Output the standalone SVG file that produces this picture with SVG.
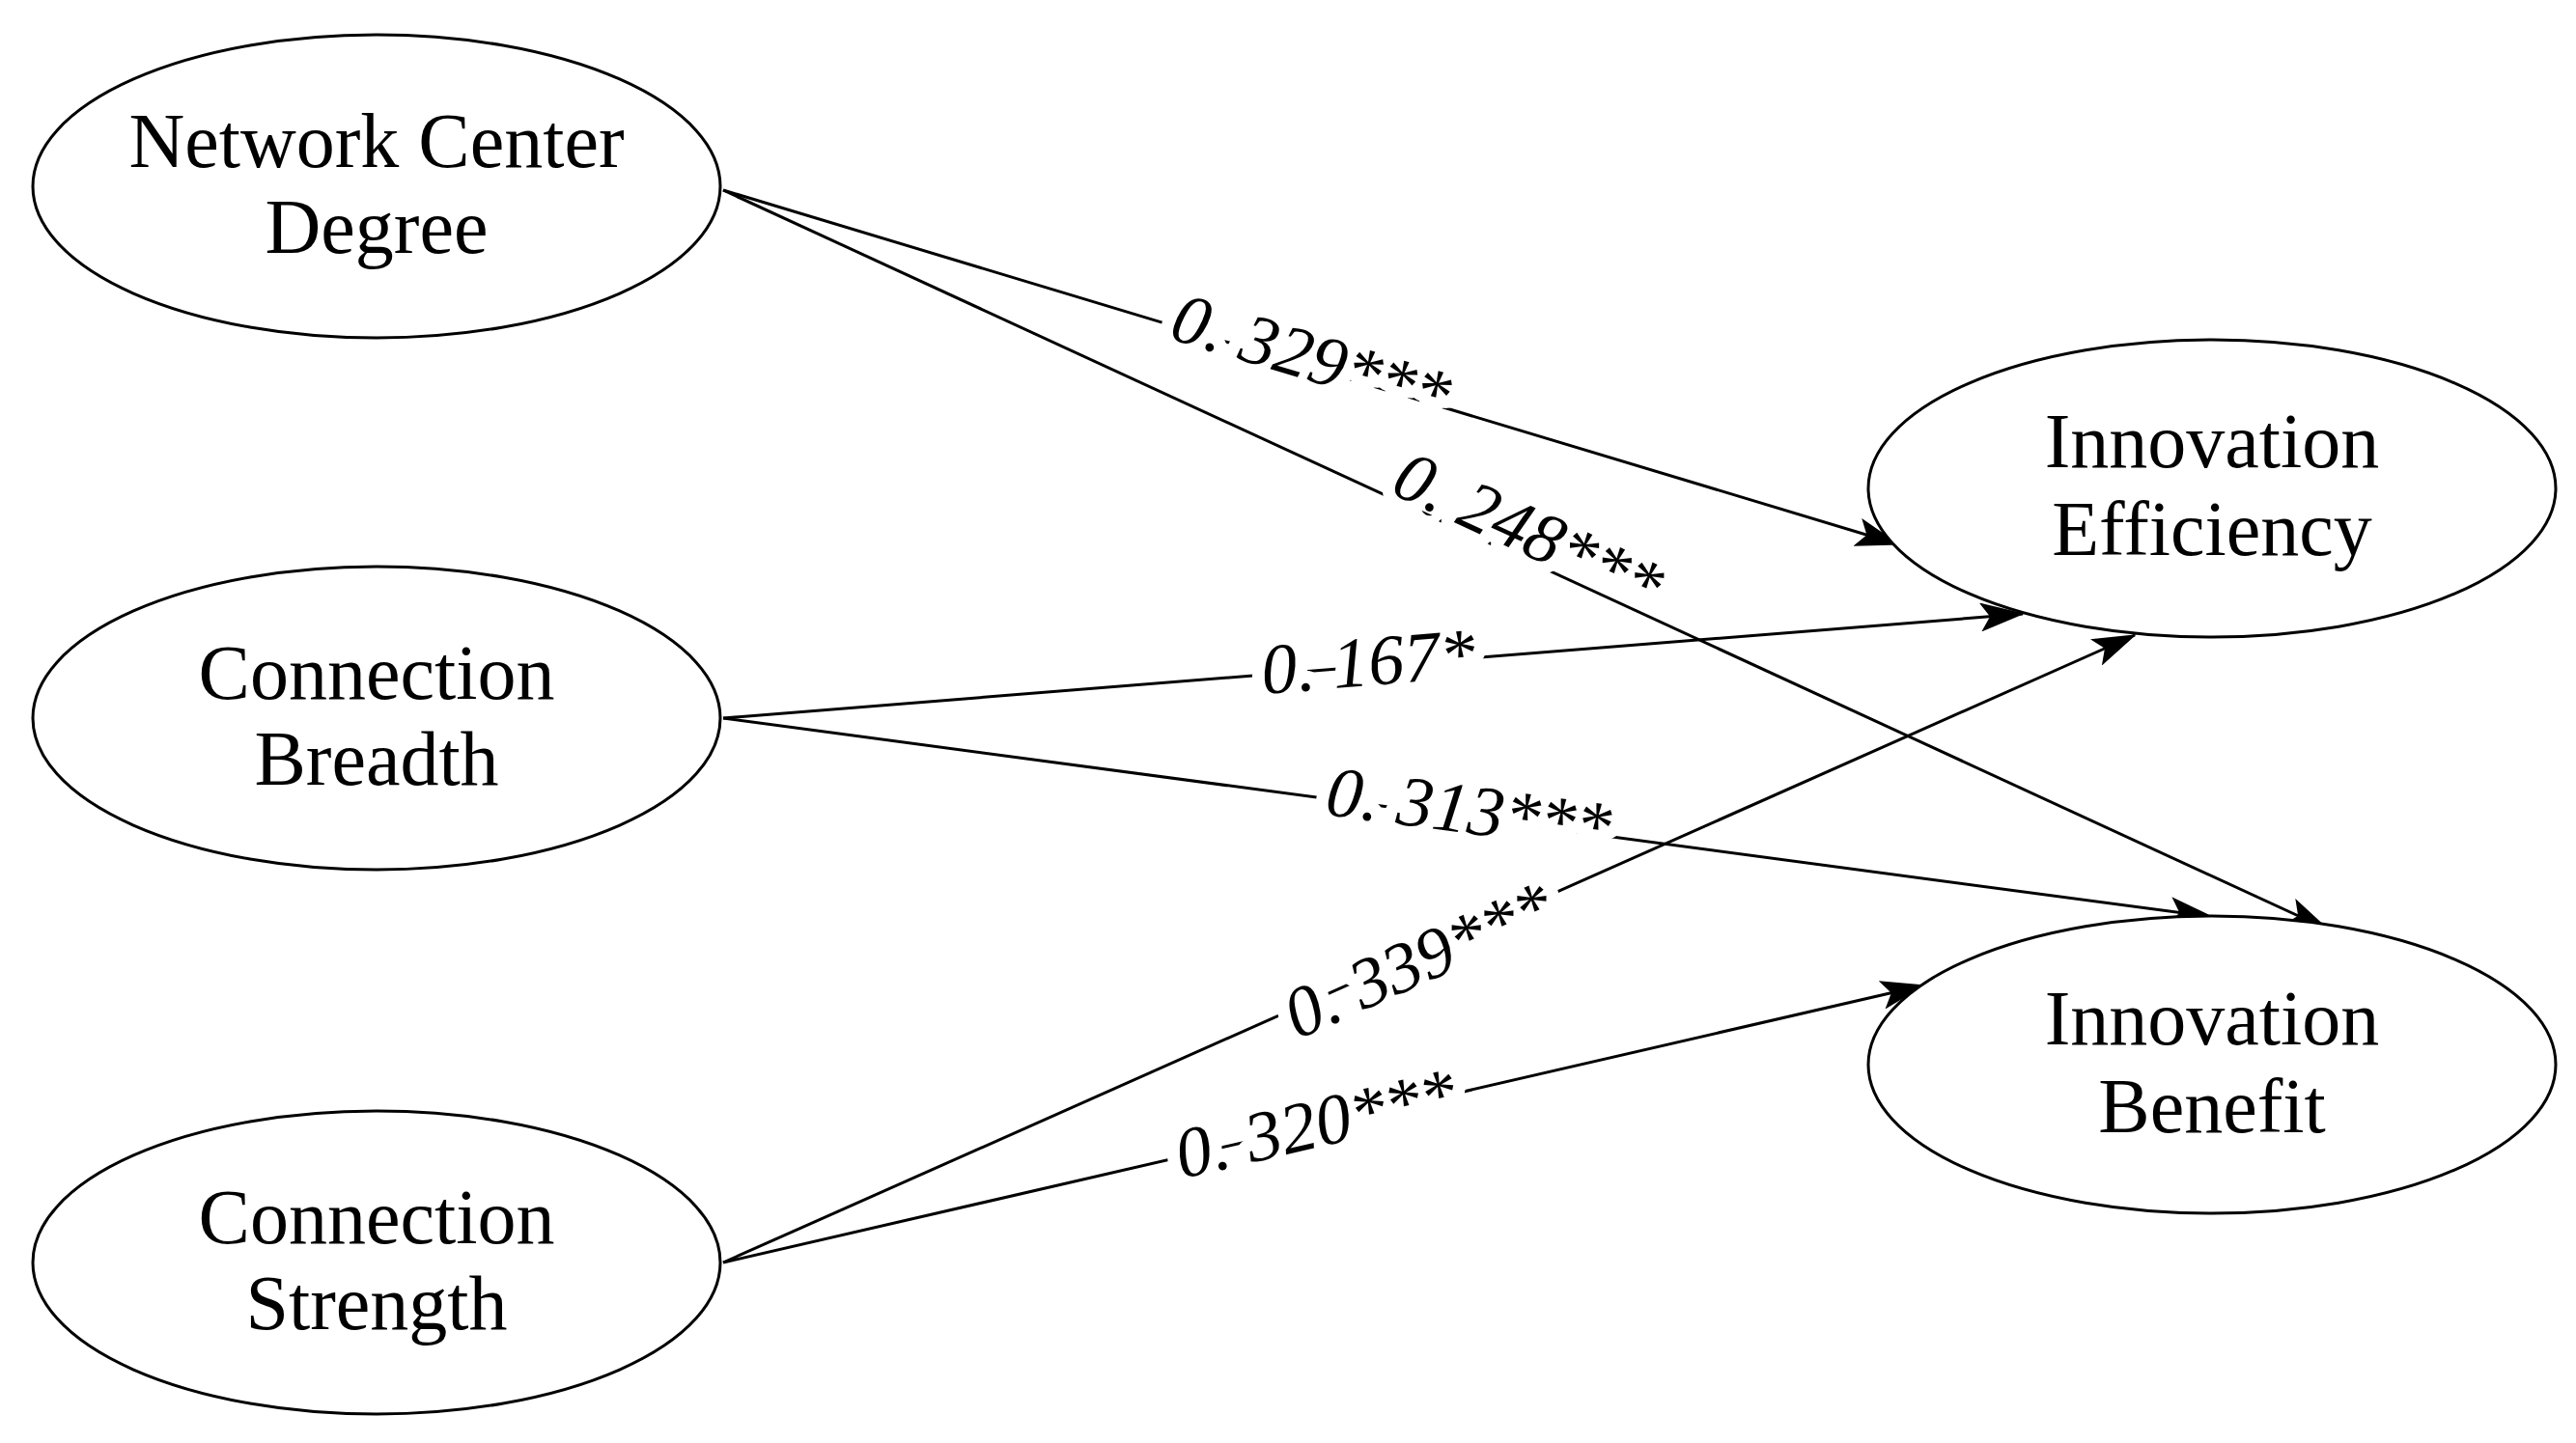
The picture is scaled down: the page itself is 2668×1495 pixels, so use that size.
<svg xmlns="http://www.w3.org/2000/svg" width="2668" height="1495" viewBox="0 0 2668 1495">
<style>
.n{fill:#fff;stroke:#000;stroke-width:3}
.t{font-family:"Liberation Serif",serif;font-size:80px;text-anchor:middle;fill:#000}
.l{font-family:"Liberation Serif",serif;font-size:74px;font-style:italic;text-anchor:middle;fill:#000;stroke:#fff;stroke-width:26;paint-order:stroke;stroke-linejoin:round}
.c line{stroke:#000;stroke-width:3;marker-end:url(#a)}
</style>
<defs><marker id="a" markerUnits="userSpaceOnUse" markerWidth="46" markerHeight="30" refX="44" refY="15" orient="auto"><path d="M0,0L46,15L0,30L10,15Z" fill="#000"/></marker></defs>
<rect width="2668" height="1495" fill="#fff"/>
<g class="c">
<line x1="749" y1="197" x2="1966" y2="564"/>
<line x1="749" y1="197" x2="2411" y2="963"/>
<line x1="749" y1="744" x2="2095" y2="636"/>
<line x1="749" y1="744" x2="2291" y2="950"/>
<line x1="749" y1="1308" x2="2211" y2="658"/>
<line x1="749" y1="1308" x2="1992" y2="1021"/>
<text class="l" transform="translate(1351,393) rotate(16.8)">0. 329***</text>
<text class="l" transform="translate(1573,572) rotate(24.7)">0. 248***</text>
<text class="l" transform="translate(1419,710) rotate(-4.6)">0. 167*</text>
<text class="l" transform="translate(1518,863) rotate(7.5)">0. 313***</text>
<text class="l" transform="translate(1479,1017) rotate(-24)">0. 339***</text>
<text class="l" transform="translate(1368,1188) rotate(-13)">0. 320***</text>
</g>
<g id="ncd"><ellipse class="n" cx="390" cy="193" rx="356" ry="157"/><text class="t" x="390" y="173">Network Center</text><text class="t" x="390" y="262">Degree</text></g>
<g id="cb"><ellipse class="n" cx="390" cy="744" rx="356" ry="157"/><text class="t" x="390" y="724">Connection</text><text class="t" x="390" y="813">Breadth</text></g>
<g id="cs"><ellipse class="n" cx="390" cy="1308" rx="356" ry="157"/><text class="t" x="390" y="1288">Connection</text><text class="t" x="390" y="1377">Strength</text></g>
<g id="ie"><ellipse class="n" cx="2291" cy="506" rx="356" ry="154"/><text class="t" x="2291" y="484">Innovation</text><text class="t" x="2291" y="575">Efficiency</text></g>
<g id="ib"><ellipse class="n" cx="2291" cy="1103" rx="356" ry="154"/><text class="t" x="2291" y="1082">Innovation</text><text class="t" x="2291" y="1173">Benefit</text></g>
</svg>
